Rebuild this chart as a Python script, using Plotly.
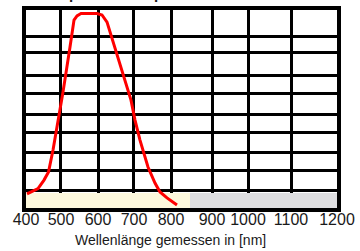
import plotly.graph_objects as go

# ---- data ----
wavelength_nm = [402.6, 430.9, 446.3, 457.9, 469.5, 482.3, 495.2, 513.2, 523.5, 531.2,
                 541.5, 582.6, 595.5, 608.4, 670.1, 680.4, 693.2, 713.8, 731.8, 744.7,
                 762.7, 788.4]
sensitivity = [7.1, 9.8, 14.1, 18.2, 29.3, 43.4, 58.6, 81.3, 94.9, 97.0,
               98.2, 98.2, 97.5, 93.9, 54.5, 44.4, 34.3, 20.7, 12.6, 8.1,
               5.1, 1.5]

tick_labels = ["400", "500", "600", "700", "800", "900", "1000", "1100", "1200"]
# positions of the (raster) grid columns on the wavelength scale
tick_positions = [400, 490.0, 585.2, 677.8, 773.0, 878.5, 971.1, 1081.7, 1200]
row_lines = [8.6, 18.7, 27.8, 37.9, 47.0, 57.6, 66.7, 78.3, 86.4]

band_edges = [400, 822, 1200]
band_colors = ["#FDF8DC", "#DEDEE0"]
band_height = 7.8

x_title = "Wellenlänge gemessen in [nm]"
chart_title = "Spektrale Empfindlichkeit"

FONT = "Arial, Liberation Sans, sans-serif"

fig = go.Figure()

band_mid = [(band_edges[i] + band_edges[i + 1]) / 2 for i in range(len(band_edges) - 1)]
band_w = [band_edges[i + 1] - band_edges[i] for i in range(len(band_edges) - 1)]
fig.add_trace(go.Bar(x=band_mid, y=[band_height] * len(band_mid), width=band_w, base=0,
                     marker=dict(color=band_colors, line=dict(width=0)),
                     hoverinfo="skip", showlegend=False))

fig.add_trace(go.Scatter(x=wavelength_nm, y=sensitivity, mode="lines",
                         line=dict(color="#FF0000", width=3), showlegend=False))

fig.update_layout(
    width=360, height=251,
    margin=dict(l=26, r=23, t=10, b=43, autoexpand=False),
    paper_bgcolor="white", plot_bgcolor="white",
    font=dict(family=FONT, color="#1a1a1a"),
    bargap=0,
)
fig.update_xaxes(range=[400, 1200], tickvals=tick_positions, ticktext=tick_labels,
                 showgrid=True, gridcolor="black", gridwidth=2.5,
                 showline=True, linecolor="black", linewidth=4, mirror=True,
                 ticks="", tickfont=dict(size=16, family=FONT, color="#1a1a1a"),
                 ticklabelstandoff=-6,
                 zeroline=False, fixedrange=True, automargin=False)
fig.update_yaxes(range=[0, 100], tickvals=row_lines, showticklabels=False,
                 showgrid=True, gridcolor="black", gridwidth=2.5,
                 showline=True, linecolor="black", linewidth=4, mirror=True,
                 ticks="", zeroline=False, fixedrange=True, automargin=False)

fig.add_annotation(text=x_title, xref="paper", yref="paper", x=0.466, y=-0.162,
                   xanchor="center", yanchor="middle", showarrow=False,
                   font=dict(size=14, family=FONT, color="#1a1a1a"))
fig.add_annotation(text="<b>" + chart_title + "</b>", xref="paper", yref="paper",
                   x=0.399, y=1.03, xanchor="center", yanchor="bottom",
                   showarrow=False, font=dict(size=15, family=FONT, color="#1a1a1a"))

fig.write_html("out.html", config={"displayModeBar": False},
               post_script="document.body.style.margin='0';document.body.style.overflow='hidden';")
